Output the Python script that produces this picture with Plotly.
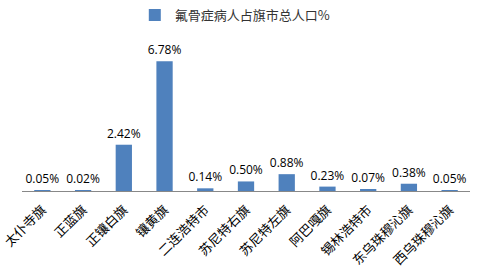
import plotly.graph_objects as go

categories = ["太仆寺旗", "正蓝旗", "正镶白旗", "镶黄旗", "二连浩特市", "苏尼特右旗",
              "苏尼特左旗", "阿巴嘎旗", "锡林浩特市", "东乌珠穆沁旗", "西乌珠穆沁旗"]
values = [0.05, 0.02, 2.42, 6.78, 0.14, 0.50, 0.88, 0.23, 0.07, 0.38, 0.05]
labels = [f"{v:.2f}%" for v in values]
series_name = "氟骨症病人占旗市总人口%"

fig = go.Figure(go.Bar(
    x=categories, y=values, name=series_name,
    marker=dict(color="#4F81BD", line=dict(width=0)),
    text=labels, textposition="outside", cliponaxis=False, constraintext="none",
    textfont=dict(family="Open Sans, Liberation Sans, sans-serif", size=12, color="#000000"),
    width=0.4,
))

fig.update_layout(
    width=482, height=276,
    margin=dict(l=22, r=12, t=38, b=85, autoexpand=False),
    plot_bgcolor="white", paper_bgcolor="white",
    showlegend=True,
    legend=dict(orientation="h", x=0.475, xanchor="center", y=1.0, yanchor="top",
                yref="container", itemwidth=30,
                font=dict(family="Noto Sans CJK SC", size=13, color="#333333")),
    xaxis=dict(showline=True, linecolor="#888888", linewidth=1, ticks="", automargin=False,
               ticklabelstandoff=5,
               tickangle=-45, tickfont=dict(family="Noto Sans CJK SC", size=13, color="#000000")),
    yaxis=dict(range=[0, 8], visible=False, showgrid=False, automargin=False),
)

fig.write_html("out.html", config={"displayModeBar": False},
               post_script="document.body.style.margin='0';")
